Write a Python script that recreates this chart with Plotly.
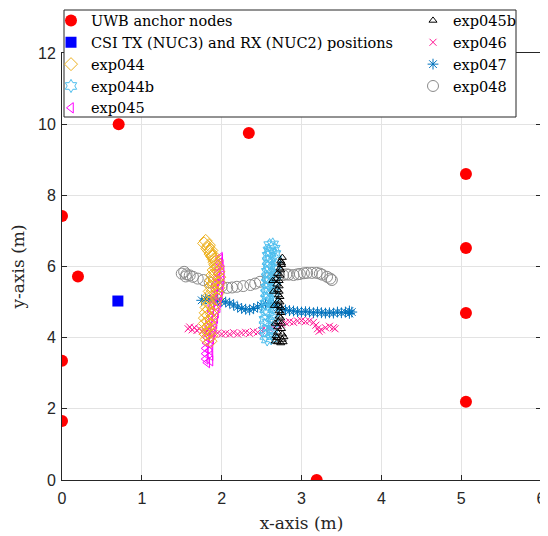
import plotly.graph_objects as go

# ---------------- data (metres) ----------------
anchor_x = [0.0, 0.2, 0.0, 0.0, 0.71, 2.34, 5.06, 5.06, 5.06, 5.06, 3.19]
anchor_y = [7.42, 5.72, 3.35, 1.66, 10.0, 9.75, 8.6, 6.52, 4.69, 2.2, 0.0]

csi_x = [0.70]
csi_y = [5.03]

exp044_x = [1.78, 1.82, 1.86, 1.90, 1.92, 1.90, 1.88, 1.87, 1.86, 1.85, 1.83, 1.82, 1.81, 1.80, 1.79, 1.79, 1.80, 1.80, 1.81,
            1.86, 1.87, 1.86, 1.86, 1.87, 1.88, 1.90, 1.92, 1.94, 1.95, 1.96, 1.97, 1.97, 1.96, 1.95, 1.93, 1.90, 1.87, 1.84, 1.80,
            1.83, 1.85, 1.88, 1.91, 1.93, 1.92, 1.91, 1.90, 1.89, 1.87, 1.85, 1.84, 1.83, 1.83, 1.83, 1.84]
exp044_y = [6.65, 6.50, 6.35, 6.20, 6.05, 5.90, 5.75, 5.60, 5.45, 5.30, 5.15, 5.00, 4.85, 4.70, 4.55, 4.40, 4.25, 4.10, 3.95,
            3.90, 4.05, 4.20, 4.35, 4.50, 4.65, 4.80, 4.95, 5.10, 5.25, 5.40, 5.55, 5.70, 5.85, 6.00, 6.15, 6.30, 6.45, 6.60, 6.72,
            6.55, 6.42, 6.28, 6.12, 5.95, 5.78, 5.62, 5.48, 5.32, 5.15, 4.98, 4.80, 4.62, 4.45, 4.28, 4.12]

exp044b_x = [2.60, 2.59, 2.58, 2.58, 2.58, 2.57, 2.57, 2.57, 2.56, 2.56, 2.56, 2.55, 2.55, 2.55, 2.54, 2.54, 2.54, 2.55, 2.57,
             2.62, 2.63, 2.63, 2.64, 2.64, 2.65, 2.65, 2.65, 2.66, 2.66, 2.66, 2.67, 2.67, 2.67, 2.68, 2.68, 2.67, 2.66, 2.64,
             2.62, 2.61, 2.61, 2.60, 2.60, 2.60, 2.59, 2.59, 2.59, 2.58, 2.58, 2.58, 2.58, 2.58]
exp044b_y = [6.60, 6.45, 6.30, 6.15, 6.00, 5.85, 5.70, 5.55, 5.40, 5.25, 5.10, 4.95, 4.80, 4.65, 4.50, 4.35, 4.20, 4.05, 3.95,
             3.98, 4.10, 4.25, 4.40, 4.55, 4.70, 4.85, 5.00, 5.15, 5.30, 5.45, 5.60, 5.75, 5.90, 6.05, 6.20, 6.35, 6.50, 6.62,
             6.52, 6.38, 6.22, 6.08, 5.92, 5.78, 5.62, 5.48, 5.32, 5.18, 5.02, 4.72, 4.42, 4.12]

exp045_x = [1.98, 1.97, 1.96, 1.95, 1.94, 1.93, 1.92, 1.91, 1.90, 1.88, 1.87, 1.86, 1.85, 1.84, 1.83, 1.82, 1.81, 1.80, 1.80, 1.80, 1.82,
            1.86, 1.86, 1.85, 1.86, 1.87, 1.88, 1.90, 1.91, 1.92, 1.93, 1.95, 1.96, 1.97, 1.98, 1.99, 2.00, 2.00, 2.00, 1.99, 1.98]
exp045_y = [6.25, 6.10, 5.95, 5.80, 5.65, 5.50, 5.35, 5.20, 5.05, 4.90, 4.75, 4.60, 4.45, 4.30, 4.15, 4.00, 3.85, 3.70, 3.55, 3.40, 3.30,
            3.35, 3.50, 3.65, 3.80, 3.95, 4.10, 4.25, 4.40, 4.55, 4.70, 4.85, 5.00, 5.15, 5.30, 5.45, 5.60, 5.75, 5.90, 6.05, 6.20]

exp045b_x = [2.76, 2.75, 2.73, 2.70, 2.68, 2.69, 2.70, 2.71, 2.71, 2.71, 2.72, 2.72, 2.71, 2.70, 2.70, 2.69, 2.70, 2.74,
             2.76, 2.76, 2.75, 2.75, 2.74, 2.74, 2.74, 2.73, 2.73, 2.72, 2.72, 2.72, 2.73, 2.74, 2.75, 2.74,
             2.64, 2.65, 2.66, 2.67, 2.68, 2.67, 2.78, 2.77]
exp045b_y = [6.25, 6.10, 5.95, 5.80, 5.65, 5.50, 5.35, 5.20, 5.05, 4.90, 4.75, 4.60, 4.45, 4.30, 4.15, 4.00, 3.88, 3.85,
             3.95, 4.10, 4.25, 4.40, 4.55, 4.70, 4.85, 5.00, 5.15, 5.30, 5.45, 5.60, 5.75, 5.90, 6.05, 6.15,
             5.60, 5.30, 4.90, 4.40, 4.05, 3.90, 4.02, 3.88]

exp046_x = [1.58, 1.60, 1.63, 1.66, 1.69, 1.72, 1.76, 1.80, 1.85, 1.90, 1.95, 2.00, 2.05, 2.10, 2.15, 2.20, 2.25, 2.30, 2.35,
            2.40, 2.45, 2.50, 2.55, 2.60, 2.65, 2.70, 2.75, 2.80, 2.85, 2.90, 2.95, 3.00, 3.05, 3.10, 3.15, 3.18, 3.20, 3.22,
            3.25, 3.30, 3.35, 3.40, 3.42]
exp046_y = [4.25, 4.30, 4.22, 4.28, 4.20, 4.25, 4.18, 4.15, 4.12, 4.10, 4.13, 4.10, 4.12, 4.10, 4.14, 4.10, 4.13, 4.15, 4.12,
            4.17, 4.15, 4.20, 4.22, 4.25, 4.30, 4.33, 4.38, 4.42, 4.45, 4.43, 4.47, 4.48, 4.45, 4.47, 4.43, 4.35, 4.25, 4.18,
            4.22, 4.28, 4.32, 4.28, 4.25]

exp047_x = [1.75, 1.80, 1.85, 1.90, 1.95, 2.00, 2.05, 2.10, 2.15, 2.20, 2.25, 2.30, 2.35, 2.40, 2.45, 2.50, 2.55, 2.60, 2.65,
            2.70, 2.75, 2.80, 2.85, 2.90, 2.95, 3.00, 3.05, 3.10, 3.15, 3.20, 3.25, 3.30, 3.35, 3.40, 3.45, 3.50, 3.55, 3.60,
            3.63, 3.60]
exp047_y = [5.05, 5.10, 5.05, 5.08, 5.05, 5.02, 5.00, 4.97, 4.92, 4.86, 4.82, 4.80, 4.78, 4.82, 4.86, 4.90, 4.95, 4.97, 4.92,
            4.85, 4.80, 4.78, 4.76, 4.75, 4.73, 4.72, 4.73, 4.72, 4.70, 4.72, 4.70, 4.69, 4.70, 4.69, 4.72, 4.70, 4.72, 4.75,
            4.72, 4.68]

exp048_x = [1.50, 1.53, 1.56, 1.60, 1.55, 1.64, 1.70, 1.77, 1.85, 1.94, 2.00, 2.07, 2.13, 2.19, 2.27, 2.36, 2.42, 2.48, 2.58,
            2.66, 2.72, 2.77, 2.81, 2.84, 2.90, 2.95, 2.98, 3.03, 3.07, 3.13, 3.19, 3.23, 3.26, 3.32, 3.36, 3.38]
exp048_y = [5.80, 5.85, 5.78, 5.75, 5.72, 5.71, 5.66, 5.62, 5.55, 5.48, 5.44, 5.40, 5.41, 5.43, 5.45, 5.48, 5.52, 5.57, 5.67,
            5.72, 5.75, 5.76, 5.78, 5.77, 5.76, 5.78, 5.79, 5.81, 5.82, 5.82, 5.82, 5.80, 5.77, 5.71, 5.66, 5.62]

x_ticks = [0, 1, 2, 3, 4, 5, 6]
y_ticks = [0, 2, 4, 6, 8, 10, 12]

# ---------------- figure ----------------
fig = go.Figure()

def add(x, y, name, symbol, color, size, rank, legend, lw=1.0, filled=False):
    marker = dict(symbol=symbol, size=size, color=color)
    if not filled:
        marker["line"] = dict(color=color, width=lw)
    else:
        marker["line"] = dict(width=0)
    fig.add_trace(go.Scatter(x=x, y=y, mode="markers", name=name, marker=marker,
                             legendrank=rank, legend=legend))

add(anchor_x, anchor_y, "UWB anchor nodes", "circle", "#FF0000", 12, 1, "legend", filled=True)
add(csi_x, csi_y, "CSI TX (NUC3) and RX (NUC2) positions", "square", "#0000FF", 11, 2, "legend", filled=True)
add(exp048_x, exp048_y, "exp048", "circle-open", "#8A8A8A", 11, 9, "legend2")
add(exp047_x, exp047_y, "exp047", "asterisk-open", "#0072BD", 9, 8, "legend2")
add(exp046_x, exp046_y, "exp046", "x-thin-open", "#FF1493", 7, 7, "legend2")
add(exp045_x, exp045_y, "exp045", "triangle-left-open", "#FF00FF", 9, 5, "legend")
add(exp044_x, exp044_y, "exp044", "diamond-open", "#EDB120", 10, 3, "legend")
add(exp044b_x, exp044b_y, "exp044b", "hexagram-open", "#4DBEEE", 10, 4, "legend")
add(exp045b_x, exp045b_y, "exp045b", "triangle-up-open", "#000000", 7, 6, "legend2")

# The page body has an 8px margin, so the figure is sized/placed to compensate.
OFF = 8
W, H = 548 - OFF, 536 - OFF
# plot area in window pixels: left 62, top 53, right 541, bottom 480
L, T = 62 - OFF, 53 - OFF
R = W - (541 - OFF)
B = H - (480 - OFF)
pw, ph = W - L - R, H - T - B

def px_x(p):  # window pixel -> paper x
    return (p - OFF - L) / pw

def px_y(p):  # window pixel -> paper y
    return (H - B - (p - OFF)) / ph

legend_font = dict(family="DejaVu Serif", size=14.5, color="#000000")

fig.update_layout(
    width=W, height=H,
    margin=dict(l=L, r=R, t=T, b=B, autoexpand=False),
    paper_bgcolor="white", plot_bgcolor="white",
    showlegend=True,
    legend=dict(x=px_x(51), y=px_y(4.5), xanchor="left", yanchor="top",
                bgcolor="rgba(0,0,0,0)", borderwidth=0, font=legend_font,
                tracegroupgap=0, itemclick=False),
    legend2=dict(x=px_x(413), y=px_y(4.5), xanchor="left", yanchor="top",
                 bgcolor="rgba(0,0,0,0)", borderwidth=0, font=legend_font,
                 tracegroupgap=0, itemclick=False),
    shapes=[dict(type="rect", xref="paper", yref="paper",
                 x0=px_x(64), x1=px_x(516), y0=px_y(117), y1=px_y(10),
                 fillcolor="white", line=dict(color="#262626", width=1), layer="above")],
)

axis_common = dict(
    showline=True, linecolor="#262626", linewidth=1, mirror="ticks",
    ticks="inside", ticklen=5, tickcolor="#262626",
    showgrid=True, gridcolor="#E3E3E3", gridwidth=1, zeroline=False,
    automargin=False, ticklabeloverflow="allow",
    tickfont=dict(family="Liberation Sans", size=16, color="#262626"),
)

fig.update_xaxes(range=[0, 6], tickvals=x_ticks, ticklabelstandoff=4, **axis_common,
                 title=dict(text="x-axis (m)", standoff=10,
                            font=dict(family="DejaVu Serif", size=17, color="#262626")))
fig.update_yaxes(range=[0, 12], tickvals=y_ticks, ticklabelstandoff=2, **axis_common,
                 title=dict(text="y-axis (m)", standoff=10,
                            font=dict(family="DejaVu Serif", size=17, color="#262626")))

fig.write_html("out.html", config={"displayModeBar": False})
